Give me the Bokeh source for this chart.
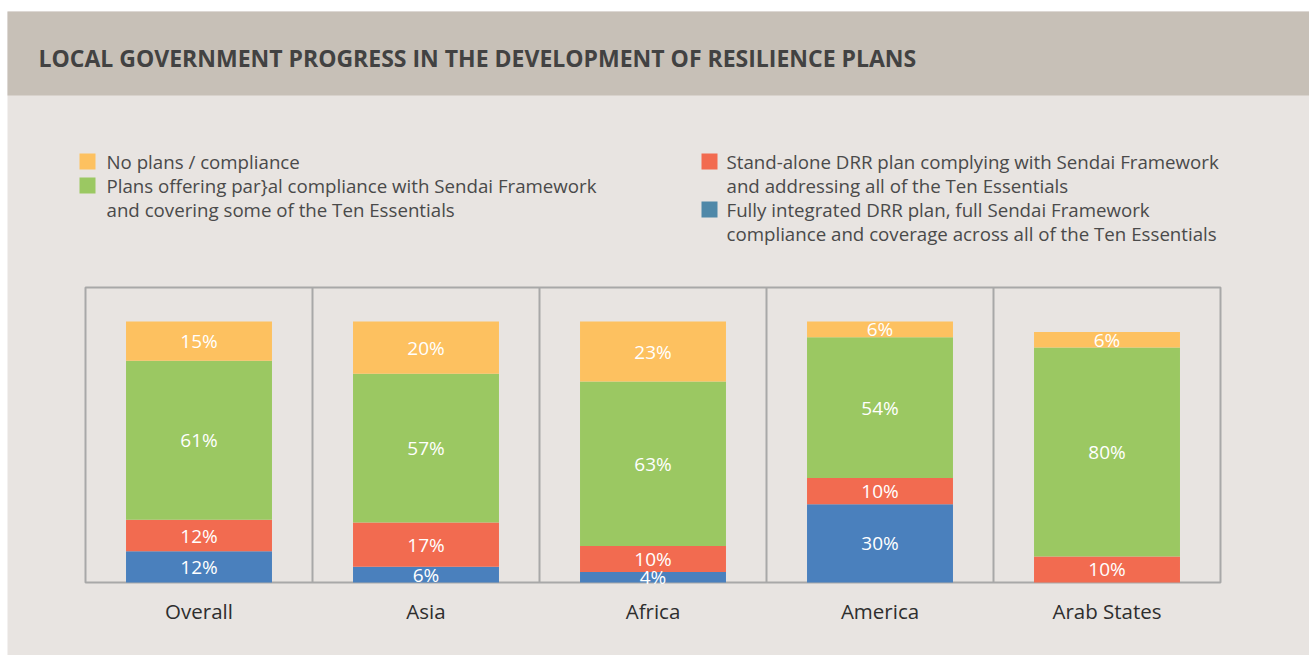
from bokeh.plotting import figure
from bokeh.models import Range1d, ColumnDataSource
from bokeh.core.properties import value
from bokeh.embed import file_html
from bokeh.resources import INLINE

# ---------------- data ----------------
categories = ["Overall", "Asia", "Africa", "America", "Arab States"]
fully_integrated = [12, 6, 4, 30, 0]
stand_alone = [12, 17, 10, 10, 10]
partial = [61, 57, 63, 54, 80]
no_plans = [15, 20, 23, 6, 6]

series_keys = ["fully", "stand", "partial", "none"]
series_values = [fully_integrated, stand_alone, partial, no_plans]
bar_colors = ["#4a80bd", "#f26b50", "#9bc862", "#fdc160"]

legend_left = [
    ("#fdc160", ["No plans / compliance"]),
    ("#9bc862", ["Plans offering par}al compliance with Sendai Framework",
                 "and covering some of the Ten Essentials"]),
]
legend_right = [
    ("#f26b50", ["Stand-alone DRR plan complying with Sendai Framework",
                 "and addressing all of the Ten Essentials"]),
    ("#4f88a8", ["Fully integrated DRR plan, full Sendai Framework",
                 "compliance and coverage across all of the Ten Essentials"]),
]
title_text = "LOCAL GOVERNMENT PROGRESS IN THE DEVELOPMENT OF RESILIENCE PLANS"

# ---------------- layout helpers (pixel geometry of the page) ----------------
W, H = 1309, 655
FRAME_LEFT, FRAME_TOP = 7, 11
PX_PER_PCT = 2.61
BASE_Y = 582.0      # page y of 0 %
PANEL_X0 = 85.0     # page x of first panel edge
PANEL_W = 227.0


def px(x_img):
    return (x_img - PANEL_X0) / PANEL_W


def py(y_img):
    return (BASE_Y - y_img) / PX_PER_PCT


FONT = "Open Sans"
bg = "#e8e4e1"

p = figure(width=W, height=H, output_backend="svg", toolbar_location=None,
           x_range=Range1d(px(FRAME_LEFT), px(W)),
           y_range=Range1d(py(H), py(FRAME_TOP)),
           min_border_left=FRAME_LEFT, min_border_right=0, min_border_bottom=0,
           min_border_top=FRAME_TOP, tools="")
p.axis.visible = False
p.grid.visible = False
p.outline_line_color = None
p.background_fill_color = bg
p.border_fill_color = "white"

# header band
p.quad(left=px(0), right=px(1400), bottom=py(95), top=py(0),
       fill_color="#c7c0b7", line_color=None)
p.text(x=[px(38)], y=[py(57)], text=[title_text], text_font=value(FONT),
       text_font_style="bold", text_font_size="23px", text_color="#424242",
       text_align="left", text_baseline="middle")


# legend
def draw_legend(items, sq_x, tx_x, y_start, size):
    y = y_start
    for color, lines in items:
        p.rect(x=[px(sq_x + 8)], y=[py(y)], width=16, height=16,
               width_units="screen", height_units="screen",
               fill_color=color, line_color=None)
        for ln in lines:
            p.text(x=[px(tx_x)], y=[py(y)], text=[ln], text_font=value(FONT),
                   text_font_size=size, text_color="#4a4a4a",
                   text_align="left", text_baseline="middle")
            y += 24


draw_legend(legend_left, 79, 106, 161, "18.7px")
draw_legend(legend_right, 701, 726, 161, "18.7px")

# panel frame and dividers
n = len(categories)
p.quad(left=[0], right=[n], bottom=[0], top=[py(287)], fill_color=None,
       line_color="#a8a8a8", line_width=2)
p.segment(x0=list(range(1, n)), x1=list(range(1, n)),
          y0=[0] * (n - 1), y1=[py(287)] * (n - 1),
          line_color="#a8a8a8", line_width=2)

# stacked bars
xs = [i + 0.5 for i in range(n)]
data = {"x": xs}
for k, v in zip(series_keys, series_values):
    data[k] = v
src = ColumnDataSource(data)
p.vbar_stack(series_keys, x="x", width=0.643, color=bar_colors, source=src,
             line_color=None)

# segment labels
lx, ly, lt = [], [], []
for i in range(n):
    base = 0
    for v in series_values:
        val = v[i]
        if val > 0:
            lx.append(xs[i])
            ly.append(base + val / 2)
            lt.append(f"{val}%")
        base += val
p.text(x=lx, y=ly, text=lt, text_font=value(FONT), text_font_size="19px",
       text_color="white", text_align="center", text_baseline="middle")

# category labels
p.text(x=xs, y=[py(610)] * n, text=categories, text_font=value(FONT),
       text_font_size="20.5px", text_color="#2e2e2e", text_align="center",
       text_baseline="middle")

open("out.html", "w").write(file_html(p, INLINE))
